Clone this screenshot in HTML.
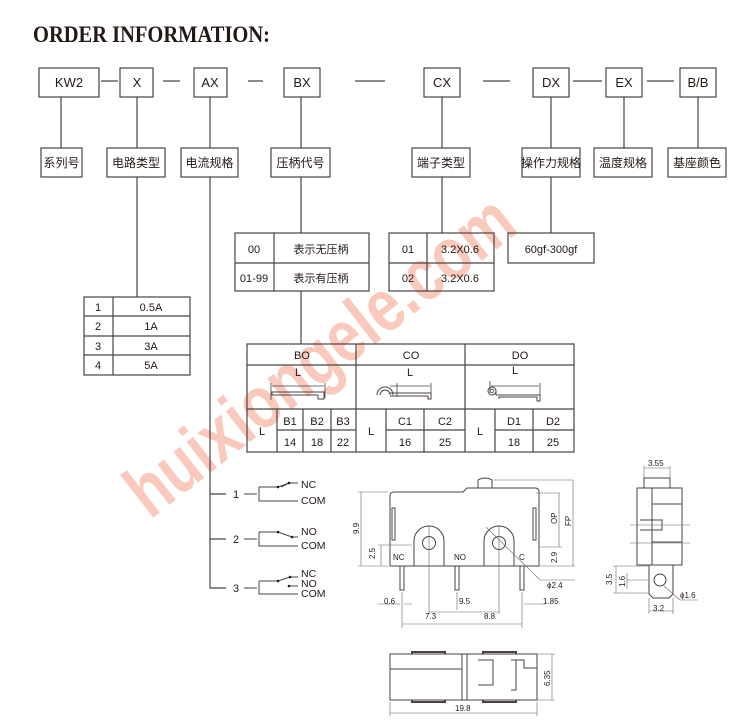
<!DOCTYPE html>
<html><head><meta charset="utf-8"><style>
html,body{margin:0;padding:0;background:#fff;}
svg{display:block;}
text{font-family:"Liberation Sans","Noto Sans CJK SC",sans-serif;fill:#231815;}
</style></head><body>
<svg width="755" height="723" viewBox="0 0 755 723" xmlns="http://www.w3.org/2000/svg">
<text x="150" y="520" transform="rotate(-38 150 520)" font-size="74" font-weight="bold" style="fill:#f9c9bd" textLength="470" lengthAdjust="spacingAndGlyphs">huixiongele.com</text>

<text x="33" y="42" font-family="Liberation Serif" font-weight="bold" font-size="23" style="font-family:'Liberation Serif',serif" textLength="237" lengthAdjust="spacingAndGlyphs">ORDER INFORMATION:</text>

<g stroke="#4a4341" stroke-width="1.2" fill="none">
<!-- top boxes -->
<rect x="39" y="68" width="60" height="29"/><rect x="120" y="68" width="33" height="29"/>
<rect x="194" y="68" width="33" height="29"/><rect x="284" y="68" width="36" height="29"/>
<rect x="424" y="68" width="36" height="29"/><rect x="533" y="68" width="36" height="29"/>
<rect x="606" y="68" width="36" height="29"/><rect x="680" y="68" width="36" height="29"/>
<path d="M101 81H118M163 81H180M248 81H263M355 81H385M483 81H510M573 81H602M647 81H674"/>
<!-- label boxes -->
<rect x="41" y="148" width="41" height="29"/><rect x="107" y="148" width="58" height="29"/>
<rect x="181" y="148" width="57" height="29"/><rect x="271" y="148" width="59" height="29"/>
<rect x="412" y="148" width="58" height="29"/><rect x="522" y="148" width="58" height="29"/>
<rect x="594" y="148" width="58" height="29"/><rect x="668" y="148" width="58" height="29"/>
<path d="M61 97V148M137 97V148M210 97V148M301 97V148M442 97V148M551 97V148M624 97V148M698 97V148"/>
<path d="M137 177V297M210 177V588H226M210 494H226M210 539H226M301 177V233M301 291V344M442 177V233M551 177V233"/>
<!-- table 1 -->
<rect x="84" y="297" width="106" height="78"/><path d="M113 297V375M84 316H190M84 336H190M84 355H190"/>
<!-- BX table -->
<rect x="235" y="233" width="134" height="58"/><path d="M274 233V291M235 263H369"/>
<rect x="389" y="233" width="105" height="58"/><path d="M427 233V291M389 263H494"/>
<rect x="508" y="233" width="86" height="30"/>
<!-- big table -->
<rect x="247" y="344" width="327" height="108"/>
<path d="M247 365H574M247 409H574M356 344V452M465 344V452M277 409V452M303 409V452M331 409V452M386 409V452M424 409V452M495 409V452M533 409V452M277 430H356M386 430H465M495 430H574"/>
<!-- lever icons -->
<path d="M271 383V400M325 383V398M272 386H324" stroke-width="0.8"/>
<path d="M272 392H324V399H318V395H272Z" stroke-width="1"/>
<path d="M397 383V397M431 383V399M390 386H430" stroke-width="0.8"/>
<path d="M377 395A8 8 0 0 1 393 395M380 395A5 5 0 0 1 390 395M390 393H431V399H428V396H390" stroke-width="1"/>
<path d="M490 381V393M540 383V400M491 386H539" stroke-width="0.8"/>
<circle cx="492" cy="391" r="4" stroke-width="1"/><circle cx="492" cy="391" r="1.8" stroke-width="0.8"/>
<path d="M496 391V395H540V401H537V397H499V399" stroke-width="1"/>
<!-- switches -->
<path d="M244 494H257M259 487V501H298M259 487H278L289 483H298M281 487L289 483" stroke-width="1"/>
<path d="M244 539H257M259 532V546H298M259 532H278L292 537H298" stroke-width="1"/>
<path d="M244 588H257M259 581V594H298M259 581H278L290 577H298M289 586H298" stroke-width="1"/>
</g>
<g fill="#231815"><circle cx="278" cy="487" r="1.3"/><circle cx="289" cy="483" r="1.3"/><circle cx="278" cy="532" r="1.3"/><circle cx="292" cy="537" r="1.3"/><circle cx="278" cy="581" r="1.3"/><circle cx="290" cy="577" r="1.3"/><circle cx="289" cy="586" r="1.3"/></g>

<g font-size="13" text-anchor="middle">
<text x="69" y="87">KW2</text><text x="137" y="87">X</text><text x="210" y="87">AX</text><text x="302" y="87">BX</text>
<text x="442" y="87">CX</text><text x="551" y="87">DX</text><text x="624" y="87">EX</text><text x="698" y="87">B/B</text>
</g>
<g font-size="12" text-anchor="middle">
<text x="61.5" y="167">系列号</text><text x="136" y="167">电路类型</text><text x="209.5" y="167">电流规格</text><text x="300.5" y="167">压柄代号</text>
<text x="441" y="167">端子类型</text><text x="551" y="167">操作力规格</text><text x="623" y="167">温度规格</text><text x="697" y="167">基座颜色</text>
</g>
<g font-size="11" text-anchor="middle">
<text x="98" y="311">1</text><text x="151" y="311">0.5A</text>
<text x="98" y="330">2</text><text x="151" y="330">1A</text>
<text x="98" y="350">3</text><text x="151" y="350">3A</text>
<text x="98" y="369">4</text><text x="151" y="369">5A</text>
<text x="254" y="253">00</text><text x="321" y="253">表示无压柄</text>
<text x="254" y="282">01-99</text><text x="321" y="282">表示有压柄</text>
<text x="408" y="253">01</text><text x="460" y="253">3.2X0.6</text>
<text x="408" y="282">02</text><text x="460" y="282">3.2X0.6</text>
<text x="551" y="253">60gf-300gf</text>
<text x="302" y="359">BO</text><text x="411" y="359">CO</text><text x="520" y="359">DO</text>
<text x="298" y="376">L</text><text x="410" y="376">L</text><text x="515" y="374">L</text>
<text x="262" y="435">L</text><text x="290" y="425">B1</text><text x="317" y="425">B2</text><text x="343" y="425">B3</text>
<text x="290" y="446">14</text><text x="317" y="446">18</text><text x="343" y="446">22</text>
<text x="371" y="435">L</text><text x="405" y="425">C1</text><text x="445" y="425">C2</text>
<text x="405" y="446">16</text><text x="445" y="446">25</text>
<text x="480" y="435">L</text><text x="514" y="425">D1</text><text x="553" y="425">D2</text>
<text x="514" y="446">18</text><text x="553" y="446">25</text>
<text x="236" y="498">1</text><text x="236" y="543">2</text><text x="236" y="592">3</text>
</g>
<g font-size="10.5">
<text x="301" y="488">NC</text><text x="301" y="504">COM</text>
<text x="301" y="535">NO</text><text x="301" y="549">COM</text>
<text x="301" y="577">NC</text><text x="301" y="587">NO</text><text x="301" y="597">COM</text>
</g>

<!-- mechanical front view -->
<g stroke="#4a4341" stroke-width="1" fill="none">
<path d="M394 492H463L467 488H535Q539 488 539 492V566H390V496Q390 492 394 492Z"/>
<path d="M478 488V480Q485 476 492 480V488"/>
<rect x="392" y="508" width="3" height="32"/><rect x="533" y="508" width="3" height="32"/>
<path d="M414 566V541A15 15 0 0 1 444 541V566M484 566V541A15 15 0 0 1 514 541V566"/>
<circle cx="429" cy="543" r="6.5"/><circle cx="499" cy="543" r="6.5"/>
<rect x="400" y="566" width="4" height="24"/><rect x="455" y="566" width="4" height="24"/><rect x="520" y="566" width="4" height="24"/>
</g>
<g stroke="#6b6461" stroke-width="0.6" fill="none">
<path d="M358 492H388M358 566H388M361 492V566M378 545H412M378 566H388M381 545V566"/>
<path d="M494 480H573M536 493H560M540 566H575M540 547H562M559 493V547M573 480V566"/>
<path d="M402 592V628M457 592V610M522 592V628M378 604H400M404 604H412M524 604H545M402 624H522M429 525V614M499 525V614M429 612H499"/>
<path d="M486 527L540 580H575"/>
</g>
<g font-size="8">
<text x="384" y="604">0.6</text><text x="459" y="604">9.5</text><text x="543" y="604">1.85</text>
<text x="425" y="619">7.3</text><text x="484" y="619">8.8</text><text x="547" y="588">ϕ2.4</text>
<text x="393" y="560">NC</text><text x="454" y="560">NO</text><text x="519" y="560">C</text>
<text transform="translate(359 534) rotate(-90)">9.9</text>
<text transform="translate(375 559) rotate(-90)">2.5</text>
<text transform="translate(557 563) rotate(-90)">2.9</text>
<text transform="translate(557 524) rotate(-90)">OP</text>
<text transform="translate(571 526) rotate(-90)">FP</text>
</g>

<!-- side view -->
<g stroke="#4a4341" stroke-width="1" fill="none">
<path d="M644 488V478H670V488"/>
<rect x="637" y="488" width="45" height="77"/>
<path d="M652 488V565M652 504H682M652 542H682M640 520H662V530H640"/>
<path d="M649 565V594L653 598H669L673 594V565"/>
<circle cx="660" cy="580" r="6"/>
</g>
<g stroke="#6b6461" stroke-width="0.6" fill="none">
<path d="M644 466V478M670 466V478M644 468H670M613 566H648M613 593H648M616 566V593M627 573V589M627 580H648M649 598V614M673 598V614M649 611H673M664 586L680 600H698M630 525H690M630 543H690"/>
</g>
<g font-size="8">
<text x="648" y="466">3.55</text><text x="653" y="611">3.2</text><text x="680" y="598">ϕ1.6</text>
<text transform="translate(612 585) rotate(-90)">3.5</text>
<text transform="translate(625 587) rotate(-90)">1.6</text>
</g>

<!-- bottom view -->
<g stroke="#4a4341" stroke-width="1" fill="none">
<rect x="390" y="654" width="147" height="46"/>
<path d="M390 669H462M462 654V700M467 654V700M478 660H493V685H478M511 660H516V690H511M516 660H524V668H537"/>
<path d="M412 654V652H445V654M483 654V652H516V654M412 700V702H445V700M483 700V702H516V700" stroke-width="2"/>
</g>
<g stroke="#6b6461" stroke-width="0.6" fill="none">
<path d="M390 702V716M537 702V716M390 713H537M537 654H555M537 700H555M552 654V700"/>
</g>
<g font-size="8"><text x="455" y="711">19.8</text><text transform="translate(550 686) rotate(-90)">6.35</text></g>
</svg>
</body></html>
